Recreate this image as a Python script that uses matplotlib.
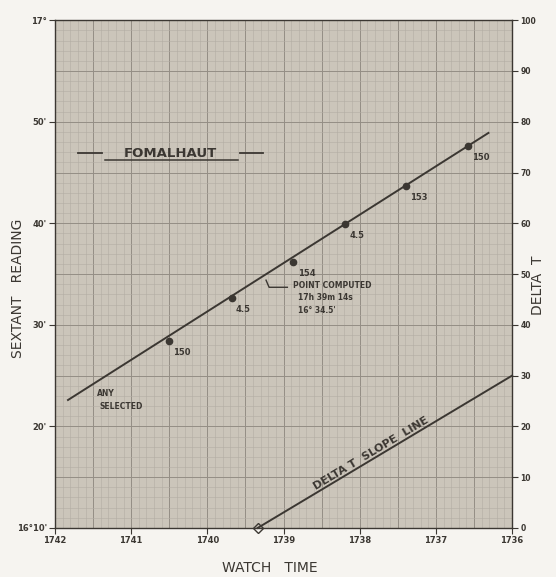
import matplotlib
matplotlib.use("Agg")
import matplotlib.pyplot as plt
import numpy as np

# watch time (minutes, 17h xx m), axis runs right-to-left
watch_ticks = [1742, 1741, 1740, 1739, 1738, 1737, 1736]
# sextant reading in minutes of arc (16°10' = 970')
alt_ticks = [970, 980, 990, 1000, 1010, 1020]
alt_labels = ["16°10'", "20'", "30'", "40'", "50'", "17°"]
delta_ticks = [0, 10, 20, 30, 40, 50, 60, 70, 80, 90, 100]

# observations plotted on the sextant line
obs_t = [1740.51, 1739.68, 1738.87, 1738.19, 1737.39, 1736.58]
obs_alt = [988.4, 992.6, 996.2, 999.9, 1003.7, 1007.6]
obs_labels = ["150", "4.5", "154", "4.5", "153", "150"]

# fitted sextant line
line_t = [1741.83, 1736.31]
line_alt = [982.6, 1008.9]

# point computed
pc_t = 1739.23
pc_alt = 994.4

# delta T slope line (right axis)
delta_t = [1739.34, 1736.0]
delta_v = [0, 30]

ink = "#3b3732"
paper = "#cbc5ba"

fig = plt.figure(figsize=(5.56, 5.77), dpi=100, facecolor="#f6f4f0")
ax = fig.add_axes([0.099, 0.085, 0.822, 0.880])
ax.set_facecolor(paper)

ax.set_xlim(1742, 1736)
ax.set_ylim(970, 1020)

# graph paper grid
for t in np.arange(1736, 1742.01, 0.1):
    major = abs(t * 2 - round(t * 2)) < 1e-6
    ax.axvline(t, color="#948e85" if major else "#b2ada4", lw=0.7 if major else 0.4, zorder=1)
for a in np.arange(970, 1020.01, 1.0):
    major = abs(a / 5 - round(a / 5)) < 1e-6
    ax.axhline(a, color="#948e85" if major else "#b2ada4", lw=0.7 if major else 0.4, zorder=1)

ax.set_xticks(watch_ticks)
ax.set_xticklabels([str(w) for w in watch_ticks])
ax.set_yticks(alt_ticks)
ax.set_yticklabels(alt_labels)
ax.tick_params(axis="both", direction="out", length=4, width=0.8, color=ink,
               labelsize=6, labelcolor=ink, pad=2)
for lab in ax.get_xticklabels() + ax.get_yticklabels():
    lab.set_fontweight("bold")
for s in ax.spines.values():
    s.set_color(ink)
    s.set_linewidth(1.0)

ax2 = ax.twinx()
ax2.set_ylim(0, 100)
ax2.set_yticks(delta_ticks)
ax2.set_yticklabels([str(d) for d in delta_ticks])
ax2.tick_params(axis="y", direction="out", length=4, width=0.8, color=ink,
                labelsize=5.5, labelcolor=ink, pad=2)
for lab in ax2.get_yticklabels():
    lab.set_fontweight("bold")
for s in ax2.spines.values():
    s.set_visible(False)

# sextant line and observations
ax.plot(line_t, line_alt, color=ink, lw=1.4, zorder=3)
ax.plot(obs_t, obs_alt, marker="o", ls="none", ms=4.5, color=ink, zorder=4)
for t, a, lab in zip(obs_t, obs_alt, obs_labels):
    ax.annotate(lab, (t, a), xytext=(3, -10), textcoords="offset points",
                fontsize=6, fontweight="bold", color=ink, zorder=5)

# point computed bracket
ax.plot([pc_t, pc_t - 0.04, pc_t - 0.28], [pc_alt, pc_alt - 0.7, pc_alt - 0.7],
        color=ink, lw=1.0, zorder=4)
ax.text(pc_t - 0.36, pc_alt - 0.55, "POINT COMPUTED", fontsize=5.5, fontweight="bold",
        color=ink, va="center", zorder=5)
ax.text(pc_t - 0.42, pc_alt - 1.75, "17h 39m 14s", fontsize=5.5, fontweight="bold",
        color=ink, va="center", zorder=5)
ax.text(pc_t - 0.42, pc_alt - 2.95, "16° 34.5'", fontsize=5.5, fontweight="bold",
        color=ink, va="center", zorder=5)

ax.text(1741.45, 983.2, "ANY", fontsize=5.5, fontweight="bold", color=ink,
        va="center", zorder=5)
ax.text(1741.42, 981.95, "SELECTED", fontsize=5.5, fontweight="bold", color=ink,
        va="center", zorder=5)

# star name
ax.text(1740.48, 1006.9, "FOMALHAUT", fontsize=9.5, fontweight="bold", color=ink,
        ha="center", va="center", zorder=5)
ax.plot([1741.35, 1739.6], [1006.2, 1006.2], color=ink, lw=1.1, zorder=5)
ax.plot([1741.7, 1741.38], [1006.9, 1006.9], color=ink, lw=1.3, zorder=5)
ax.plot([1739.57, 1739.27], [1006.9, 1006.9], color=ink, lw=1.3, zorder=5)

# delta T slope line
ax2.plot(delta_t, delta_v, color=ink, lw=1.4, zorder=3, clip_on=False)
ax2.plot(delta_t[0], delta_v[0], marker="D", ms=5, mfc="none", mec=ink, mew=1.0,
         clip_on=False, zorder=4)
ax2.text(1737.82, 13.9, "DELTA T  SLOPE  LINE", rotation=31, fontsize=8, fontweight="bold",
         color=ink, ha="center", va="bottom", rotation_mode="anchor", zorder=5)

# axis titles
fig.text(0.032, 0.50, "SEXTANT   READING", rotation=90, fontsize=10, color=ink,
         ha="center", va="center")
fig.text(0.485, 0.016, "WATCH   TIME", fontsize=10, color=ink, ha="center", va="center")
fig.text(0.968, 0.505, "DELTA  T", rotation=90, fontsize=10, color=ink,
         ha="center", va="center")

fig.savefig("out.png", dpi=100, facecolor=fig.get_facecolor())
